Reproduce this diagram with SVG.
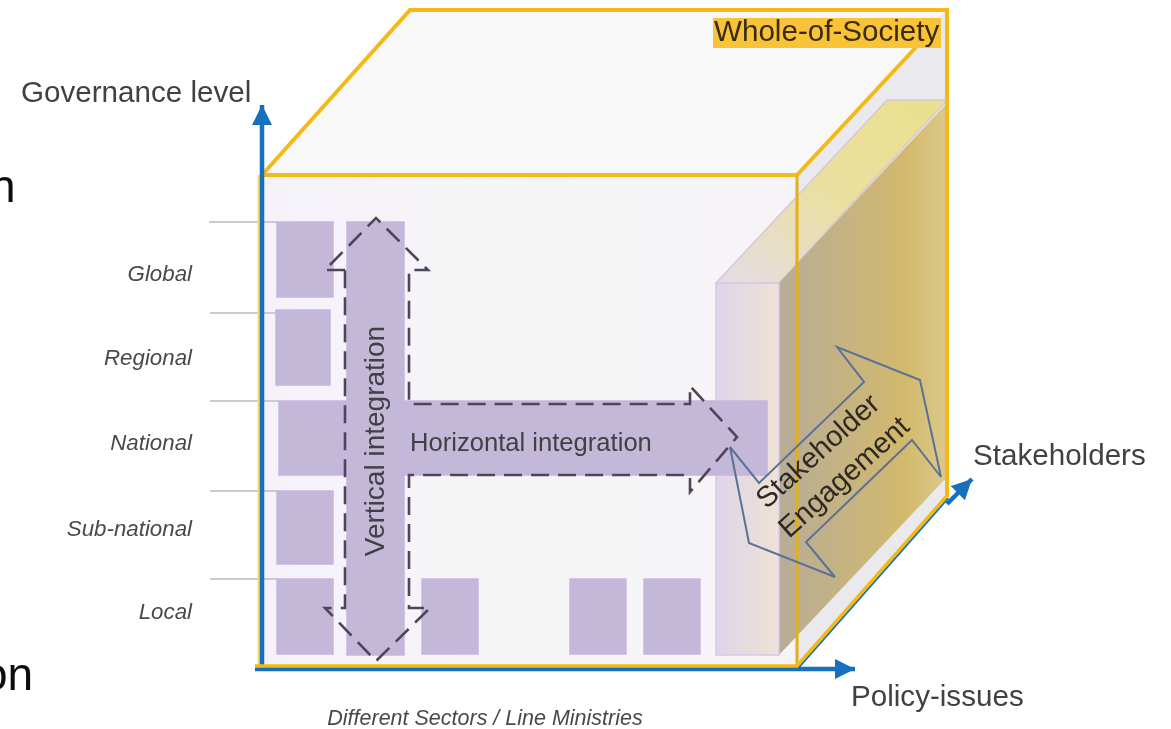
<svg xmlns="http://www.w3.org/2000/svg" width="1171" height="729" viewBox="0 0 1171 729">
<defs>
<filter id="soft" x="0" y="0" width="1171" height="729" filterUnits="userSpaceOnUse"><feGaussianBlur stdDeviation="0.6"/></filter>
<linearGradient id="wallFront" x1="0" x2="1" y1="0" y2="0"><stop offset="0" stop-color="#ddd5e8"/><stop offset="1" stop-color="#efe2d6"/></linearGradient>
<linearGradient id="wallTop" x1="0" x2="1" y1="1" y2="0"><stop offset="0" stop-color="#e4dde6"/><stop offset="0.5" stop-color="#ebdfa0"/><stop offset="1" stop-color="#ebe08c"/></linearGradient>
<linearGradient id="wallSide" x1="779" x2="947" y1="0" y2="0" gradientUnits="userSpaceOnUse"><stop offset="0" stop-color="#b8ac98"/><stop offset="0.75" stop-color="#d2b96c"/><stop offset="1" stop-color="#dcc98a"/></linearGradient>
<linearGradient id="frontFace" x1="0" x2="1" y1="0" y2="0"><stop offset="0" stop-color="#f5f2fa"/><stop offset="0.25" stop-color="#f6f4f9"/><stop offset="0.4" stop-color="#f5f5f5"/><stop offset="1" stop-color="#f6f4f8"/></linearGradient>
<marker id="blueHead" markerUnits="userSpaceOnUse" markerWidth="24" markerHeight="24" refX="20" refY="10" orient="auto"><path d="M0 0L20 10L0 20Z" fill="#1270bd"/></marker>
</defs>
<style>
text{font-family:"Liberation Sans",Arial,sans-serif;fill:#3f3f44}
.axis{font-size:29.6px}
.lvl{font-size:22.3px;font-style:italic;text-anchor:end;fill:#4a4a4a}
.box{fill:#c4b8d8;stroke:#c7b4e4;stroke-width:1.5}
.tick{stroke:#b9bcc4;stroke-width:1.5;fill:none}
.edge{stroke:#f4b916;stroke-width:4;fill:none}
.thin{stroke:#e3b013;stroke-width:3;fill:none}
.axisline{stroke:#1270bd;stroke-width:4.5;fill:none}
.dash{stroke:#4d4558;stroke-width:2.6;fill:none;stroke-dasharray:18 9}
.cut{font-size:46px;fill:#111}
</style>
<rect width="1171" height="729" fill="#fff"/>
<g filter="url(#soft)">
<g id="cube">
<polygon points="262,175 410,10 947,10 797,175" fill="#f8f8f9"/>
<polygon points="797,175 947,10 947,497 797,667" fill="#e9e9ee"/>
<rect x="262" y="175" width="535" height="492" fill="url(#frontFace)"/>
</g>
<g id="stakeholder-wall">
<polygon points="716,283 779,283 947,100 887,100" fill="url(#wallTop)" stroke="#d6c8d8" stroke-width="1.5"/>
<polygon points="779,283 947,103 947,477 779,655" fill="url(#wallSide)"/>
<rect x="716" y="283" width="63" height="372" fill="url(#wallFront)" stroke="#d5c8e6" stroke-width="1.5"/>
</g>
<g id="ticks">
<path class="tick" d="M209 222H277M210 313H276M210 401H279M210 491H277M210 579H277"/>
</g>
<g id="boxes">
<rect class="box" x="277" y="222" width="56" height="75"/>
<rect class="box" x="276" y="310" width="54" height="75"/>
<rect class="box" x="277" y="491" width="56" height="73"/>
<rect class="box" x="277" y="579" width="56" height="75"/>
<rect class="box" x="422" y="579" width="56" height="75"/>
<rect class="box" x="570" y="579" width="56" height="75"/>
<rect class="box" x="644" y="579" width="56" height="75"/>
<rect class="box" x="279" y="401" width="488" height="74"/>
<rect class="box" x="347" y="222" width="57" height="433"/>
</g>
<g id="integration-arrows">
<path class="dash" d="M345 270H325L376 218L428 270H409V404H690V386L737 437L690 492V475H409V608H430L376 661L325 608H345V270"/>
</g>
<g id="connectors">
<path class="edge" d="M262 175L410 10H947V497"/>
<path class="edge" d="M797 175L918 45"/>
<path class="edge" d="M262 175H797"/>
<path class="thin" d="M797 175V667"/>
<path class="edge" style="stroke:#f9dc6a;stroke-width:3" d="M259 175V666"/>
<path class="axisline" d="M262 665V105" marker-end="url(#blueHead)"/>
<path class="axisline" d="M255 669H855" marker-end="url(#blueHead)"/>
<path class="axisline" style="stroke-width:2.5" d="M798 668L948 498"/>
<path class="axisline" d="M947 504L972 479" marker-end="url(#blueHead)"/>
<path class="edge" d="M255 666H797L946 497" style="stroke-width:3.5"/>
<polygon points="730,447 759,483 864,382 837,347 920,380 941,477 912,440 806,542 835,577 749,543" fill="none" stroke="#5c7198" stroke-width="2"/>
</g>
<g id="label-society">
<rect x="713" y="18" width="228" height="30" fill="#f9c338"/>
</g>
</g>
<g id="texts" filter="url(#soft)">
<text x="714" y="41" style="font-size:29.6px;fill:#3a2a10">Whole-of-Society</text>
<text x="21" y="102" class="axis">Governance level</text>
<text x="973" y="465" class="axis">Stakeholders</text>
<text x="851" y="706" class="axis">Policy-issues</text>
<text x="-10" y="202" class="cut">n</text>
<text x="-18" y="690" class="cut">on</text>
<text x="192" y="281" class="lvl">Global</text>
<text x="192" y="365" class="lvl">Regional</text>
<text x="192" y="450" class="lvl">National</text>
<text x="192" y="536" class="lvl">Sub-national</text>
<text x="192" y="619" class="lvl">Local</text>
<text x="485" y="725" class="lvl" style="text-anchor:middle;font-size:21.5px">Different Sectors / Line Ministries</text>
<text transform="translate(384 441) rotate(-90)" style="font-size:28px;text-anchor:middle">Vertical integration</text>
<text x="410" y="451" style="font-size:25.6px">Horizontal integration</text>
<text transform="translate(824 458) rotate(-42)" style="font-size:29px;text-anchor:middle;fill:#2f2a22">Stakeholder</text>
<text transform="translate(850 484) rotate(-42)" style="font-size:29px;text-anchor:middle;fill:#2f2a22">Engagement</text>
</g>
</svg>
